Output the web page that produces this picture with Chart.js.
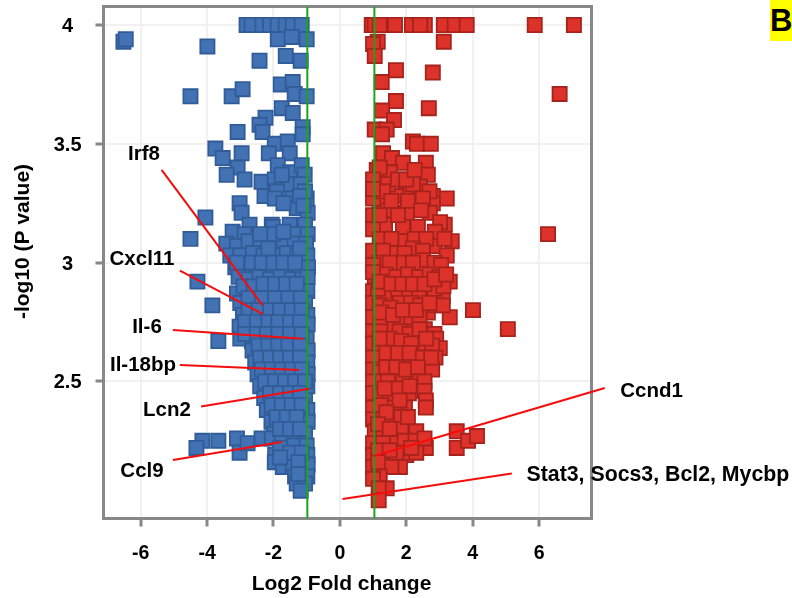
<!DOCTYPE html>
<html><head><meta charset="utf-8">
<style>html,body{margin:0;padding:0;background:#fff}#w{position:relative;width:792px;height:598px}
#p{position:absolute;left:770px;top:0;width:22px;height:41px;background:#ffff00;font:bold 31px "Liberation Sans",Arial,sans-serif;line-height:41px;color:#000;overflow:hidden}</style>
<script src="https://cdn.jsdelivr.net/npm/chart.js@4"></script></head>
<body><div id="w"><canvas id="c" width="792" height="598"></canvas><div id="p">B</div></div>
<script>
const xTickValues=[-6,-4,-2,0,2,4,6];
const yTickValues=[2.5,3,3.5,4];
const xThresholds=[-0.98,1.04];
const xAxisTitle='Log2 Fold change';
const yAxisTitle='-log10 (P value)';
const downRegulated=[
[-2.81,4],[-2.66,4],[-2.33,4],[-2.1,4],[-1.87,4],[-1.63,4],[-1.42,4],[-1.15,4],
[-6.52,3.93],[-6.45,3.94],[-3.99,3.91],[-1.87,3.94],[-1.45,3.95],[-1.0,3.94],[-1.63,3.87],[-2.42,3.85],[-1.18,3.85],
[-1.78,3.75],[-1.42,3.76],[-1.36,3.71],[-1.0,3.70],[-4.5,3.70],[-3.26,3.70],[-2.93,3.73],[-1.75,3.65],[-1.42,3.63],
[-2.24,3.61],[-2.42,3.58],[-2.33,3.55],[-3.08,3.55],[-1.12,3.57],[-1.12,3.54],[-3.75,3.48],[-3.53,3.44],[-2.96,3.46],
[-3.08,3.40],[-3.41,3.37],[-2.87,3.35],[-1.96,3.50],[-1.57,3.51],[-2.14,3.46],[-1.51,3.46],[-1.87,3.41],[-1.51,3.38],
[-1.15,3.41],[-1.06,3.37],[-2.36,3.34],[-1.96,3.35],[-1.51,3.33],[-1.18,3.33],[-2.27,3.28],[-1.9,3.30],[-1.96,3.27],
[-1.42,3.27],[-1.0,3.27],[-3.02,3.25],[-2.96,3.21],[-4.05,3.19],[-1.3,3.23],[-0.97,3.21],[-4.5,3.10],[-2.72,3.16],
[-2.05,3.16],[-1.51,3.16],[-1.05,3.16],[-3.23,3.13],[-2.87,3.12],[-2.02,3.15],[-1.36,3.12],[-0.97,3.12],
[-3.42,3.08],[-3.1,3.07],[-2.75,3.09],[-2.4,3.08],[-1.96,3.08],[-1.7,3.09],[-1.36,3.08],[-1.02,3.08],
[-3.3,3.03],[-3.0,3.03],[-2.62,3.04],[-2.3,3.03],[-1.96,3.03],[-1.6,3.04],[-1.28,3.03],[-0.98,3.03],
[-3.15,2.98],[-2.85,2.98],[-2.5,2.99],[-2.18,2.98],[-1.85,2.98],[-1.52,2.99],[-1.2,2.98],[-0.96,2.98],
[-4.29,2.92],[-3.05,2.94],[-2.75,2.93],[-2.42,2.94],[-2.1,2.93],[-1.78,2.94],[-1.45,2.93],[-1.13,2.93],[-0.97,2.94],
[-3.1,2.87],[-2.8,2.88],[-2.5,2.87],[-2.2,2.89],[-1.88,2.88],[-1.55,2.87],[-1.25,2.88],[-0.98,2.88],
[-3.84,2.82],[-3.0,2.83],[-2.68,2.83],[-2.35,2.82],[-2.03,2.84],[-1.7,2.83],[-1.38,2.82],[-1.05,2.83],
[-2.92,2.78],[-2.6,2.78],[-2.28,2.77],[-1.95,2.78],[-1.62,2.77],[-1.3,2.78],[-0.98,2.78],
[-3.02,2.73],[-2.7,2.73],[-2.38,2.72],[-2.05,2.73],[-1.72,2.72],[-1.4,2.73],[-1.08,2.72],[-0.97,2.74],
[-3.66,2.67],[-3.0,2.68],[-2.65,2.67],[-2.3,2.68],[-1.98,2.67],[-1.65,2.68],[-1.32,2.67],[-1.0,2.68],
[-2.63,2.63],[-2.3,2.62],[-2.0,2.63],[-1.72,2.62],[-1.4,2.63],[-1.08,2.62],[-0.97,2.63],
[-2.55,2.58],[-2.25,2.58],[-1.92,2.57],[-1.6,2.58],[-1.3,2.57],[-0.98,2.58],
[-2.48,2.53],[-2.15,2.53],[-1.85,2.52],[-1.52,2.53],[-1.2,2.52],[-0.97,2.53],
[-2.4,2.48],[-2.05,2.48],[-1.75,2.47],[-1.42,2.48],[-1.1,2.47],[-0.98,2.48],
[-2.28,2.43],[-1.95,2.43],[-1.65,2.42],[-1.35,2.43],[-1.05,2.42],
[-2.2,2.38],[-1.88,2.38],[-1.58,2.37],[-1.28,2.38],[-0.98,2.38],
[-2.06,2.33],[-1.75,2.32],[-1.45,2.33],[-1.15,2.32],[-0.97,2.33],
[-1.98,2.28],[-1.68,2.28],[-1.35,2.27],[-1.05,2.28],
[-4.14,2.25],[-4.32,2.22],[-3.66,2.25],[-3.1,2.26],[-3.02,2.20],[-2.78,2.24],[-2.36,2.26],[-2.05,2.26],[-1.75,2.24],[-1.4,2.23],[-1.0,2.23],
[-1.95,2.19],[-1.6,2.18],[-1.28,2.19],[-0.98,2.19],[-1.96,2.16],[-1.72,2.14],[-1.42,2.14],[-1.1,2.14],[-0.97,2.15],
[-1.35,2.10],[-1.15,2.09],[-0.98,2.1],[-1.3,2.07],[-1.05,2.07],[-1.18,2.04],
[-3.1,3.0],[-2.65,3.0],[-2.35,3.0],[-2.0,3.0],[-1.7,3.0],[-1.35,3.0],[-2.9,2.9],[-2.6,2.9],[-2.3,2.91],[-1.95,2.91],[-1.62,2.91],[-1.3,2.91],
[-2.75,2.85],[-2.35,2.85],[-1.95,2.85],[-1.55,2.85],[-1.18,2.85],[-2.75,2.8],[-2.45,2.8],[-2.1,2.8],[-1.8,2.8],[-1.45,2.8],[-1.15,2.8],
[-2.85,2.75],[-2.5,2.75],[-2.15,2.75],[-1.85,2.75],[-1.5,2.75],[-1.2,2.75],[-2.85,2.7],[-2.5,2.7],[-2.2,2.7],[-1.85,2.7],[-1.5,2.7],[-1.15,2.7],
[-2.45,2.65],[-2.15,2.65],[-1.85,2.65],[-1.55,2.65],[-1.2,2.65],[-2.4,2.6],[-2.1,2.6],[-1.8,2.6],[-1.5,2.6],[-1.2,2.6],
[-2.35,2.55],[-2.05,2.55],[-1.75,2.55],[-1.45,2.55],[-1.15,2.55],[-2.25,2.5],[-1.95,2.5],[-1.65,2.5],[-1.35,2.5],[-1.05,2.5],
[-2.1,2.45],[-1.8,2.45],[-1.5,2.45],[-1.2,2.45],[-2.05,2.4],[-1.75,2.4],[-1.45,2.4],[-1.15,2.4],[-1.9,2.35],[-1.6,2.35],[-1.3,2.35],
[-1.8,2.3],[-1.5,2.3],[-1.2,2.3],[-1.8,2.22],[-1.5,2.2],[-1.15,2.2],[-1.8,2.18],[-1.25,2.16],[-1.25,2.11],
[-2.0,3.12],[-2.4,3.12],[-1.7,3.13],[-1.2,3.06],[-2.15,3.06],[-1.05,3.3],[-1.75,3.37],[-1.2,3.28],[-1.7,3.25],[-1.1,3.24]
];
const upRegulated=[
[0.96,4],[1.05,4],[1.2,4],[1.66,4],[2.17,4],[2.56,4],[2.42,4],[3.13,4],[3.46,4],[3.82,4],[5.87,4],[7.05,4],
[1.14,3.93],[1.0,3.92],[3.13,3.93],[1.05,3.87],[1.69,3.81],[2.8,3.80],[1.26,3.76],[6.62,3.71],[1.69,3.68],[1.27,3.64],
[2.68,3.65],[1.63,3.60],[1.05,3.56],[1.41,3.56],[1.27,3.54],[2.2,3.51],[2.32,3.5],[2.74,3.50],[1.3,3.46],[1.57,3.44],
[1.9,3.42],[2.59,3.42],[1.11,3.39],[1.51,3.38],[2.35,3.37],[2.65,3.37],[1.96,3.31],[2.41,3.32],[1.15,3.33],[2.8,3.28],
[3.22,3.27],[2.8,3.25],[2.29,3.26],[1.2,3.25],[1.0,3.27],[1.45,3.22],[2.02,3.21],[2.71,3.21],[1.0,3.2],[1.7,3.28],
[3.16,3.16],[3.02,3.17],[6.27,3.12],[1.9,3.15],[1.36,3.16],[2.35,3.15],[2.86,3.13],[1.0,3.14],
[3.37,3.09],[1.2,3.1],[1.9,3.09],[2.86,3.07],[1.55,3.1],[2.25,3.1],[2.6,3.1],[3.15,3.1],
[1.66,3.04],[2.2,3.06],[3.22,3.03],[1.0,3.05],[1.3,3.05],[1.95,3.04],[2.5,3.05],
[2.5,3.01],[1.2,3.0],[1.9,3.0],[1.5,3.0],[2.2,3.0],[2.85,3.0],[3.05,2.99],[1.0,2.99],
[3.31,2.92],[1.05,2.94],[1.38,2.95],[1.7,2.94],[2.05,2.95],[2.38,2.94],[2.7,2.95],[3.0,2.94],
[3.1,2.86],[2.59,2.86],[1.41,2.86],[1.0,2.88],[1.15,2.89],[1.75,2.88],[2.08,2.89],[2.38,2.88],[2.85,2.89],[3.12,2.9],
[4.01,2.80],[5.06,2.72],[3.31,2.77],[1.81,2.83],[2.65,2.79],[1.0,2.83],[1.2,2.82],[1.52,2.81],[2.15,2.83],[2.42,2.82],[2.9,2.82],[3.1,2.82],
[1.51,2.73],[2.14,2.72],[2.56,2.72],[1.0,2.77],[1.22,2.76],[1.85,2.77],[2.15,2.77],[2.4,2.77],
[1.0,2.71],[1.22,2.71],[1.8,2.71],[2.85,2.70],[2.4,2.68],[2.9,2.68],
[3.01,2.64],[1.0,2.66],[1.2,2.65],[1.55,2.66],[1.88,2.65],[2.2,2.66],[2.5,2.65],[2.78,2.65],
[2.62,2.6],[1.3,2.59],[1.0,2.6],[1.6,2.61],[1.95,2.6],[2.28,2.6],[2.88,2.6],
[1.87,2.57],[1.0,2.55],[1.22,2.54],[1.55,2.55],[2.2,2.55],[2.5,2.55],[2.78,2.55],
[2.2,2.51],[1.0,2.5],[1.28,2.5],[1.6,2.49],[1.9,2.5],[2.55,2.5],
[1.0,2.45],[1.22,2.44],[1.55,2.45],[1.88,2.45],[2.08,2.45],[2.55,2.46],
[1.51,2.43],[2.59,2.42],[2.59,2.39],[1.96,2.39],[1.0,2.39],[1.25,2.4],[1.65,2.39],
[1.63,2.34],[1.0,2.34],[1.3,2.34],[1.85,2.35],[1.05,2.29],
[2.05,2.29],[2.3,2.29],[1.3,2.29],[1.62,2.29],[1.85,2.3],
[1.6,2.25],[2.59,2.22],[1.0,2.24],[1.3,2.24],[1.95,2.25],[2.28,2.25],[2.55,2.26],
[3.52,2.29],[3.52,2.22],[3.86,2.25],[4.13,2.27],
[1.0,2.19],[1.3,2.18],[1.65,2.19],[2.0,2.19],[2.3,2.2],
[1.81,2.14],[1.0,2.14],[1.28,2.14],[1.55,2.14],
[1.2,2.10],[1.0,2.09],[1.41,2.05],[1.17,2.05],[1.17,2.0],
[1.2,3.4],[1.45,3.33],[1.75,3.35],[2.2,3.33],[2.7,3.3],[1.3,3.3],[2.05,3.26],[2.5,3.27],[1.55,3.26],[1.0,3.35],[1.0,3.31],[2.45,3.22],[1.75,3.2],[1.2,3.2],[2.0,3.35],[2.25,3.39],
[1.0,2.96],[1.2,2.92],[1.55,2.91],[1.88,2.91],[2.2,2.91],[2.55,2.91],[2.85,2.93],[3.2,2.95],[1.25,2.79],[1.6,2.78],[1.9,2.8],[2.3,2.8],[2.7,2.83],
[2.1,2.7],[2.4,2.72],[1.5,2.68],[1.2,2.68],[1.85,2.67],[2.15,2.66],[2.6,2.68],[1.4,2.62],[1.75,2.62],[2.1,2.62],[2.5,2.6],[2.75,2.6],
[1.4,2.56],[1.7,2.56],[2.0,2.55],[2.35,2.56],[1.45,2.5],[1.75,2.47],[2.1,2.48],[1.35,2.47],[1.8,2.42],[1.4,2.37],[2.05,2.35],[1.15,2.32],[1.5,2.3],[1.7,2.2],[1.15,2.21],[1.5,2.21],[2.15,2.22],[1.15,2.16]
];
const geneLabels=[
 {text:"Irf8",at:[-5.9,3.46],line:[[-5.37,3.39],[-2.33,2.82]]},
 {text:"Cxcl11",at:[-5.96,3.02],line:[[-4.82,2.966],[-2.33,2.784]]},
 {text:"Il-6",at:[-5.81,2.733],line:[[-5.03,2.716],[-1.11,2.68]]},
 {text:"Il-18bp",at:[-5.93,2.573],line:[[-4.82,2.569],[-1.23,2.548]]},
 {text:"Lcn2",at:[-5.21,2.384],line:[[-4.18,2.394],[-0.93,2.469]]},
 {text:"Ccl9",at:[-5.96,2.127],line:[[-5.03,2.169],[-1.75,2.245]]},
 {text:"Ccnd1",at:[9.39,2.465],line:[[1.03,2.186],[7.98,2.472]]},
 {text:"Stat3, Socs3, Bcl2, Mycbp",at:[9.58,2.112],line:[[0.08,2.005],[5.18,2.112]]}
];
const X_MIN=-7.12,X_MAX=7.58,Y_MIN=1.923,Y_MAX=4.078;
const FONT='"Liberation Sans",Arial,sans-serif';
const toPts=a=>a.map(p=>({x:p[0],y:p[1]}));
const marker=(label,data,fill,edge)=>({type:'scatter',label,data:toPts(data),pointStyle:'rect',pointRadius:10,pointHoverRadius:10,
  backgroundColor:fill,borderColor:edge,borderWidth:1.8,order:3});
const frame={id:'frame',beforeDatasetsDraw(c){const a=c.chartArea,g=c.ctx;g.save();g.strokeStyle='#888888';g.lineWidth=3;
  g.strokeRect(a.left,a.top,a.right-a.left,a.bottom-a.top);g.restore();}};
const labels={id:'labels',afterDraw(c){const g=c.ctx,sx=c.scales.x,sy=c.scales.y;g.save();g.fillStyle='#000';g.textAlign='center';g.textBaseline='middle';
  geneLabels.forEach(l=>{g.font='bold '+(l.text.length>10?21.3:20.5)+'px '+FONT;g.fillText(l.text,sx.getPixelForValue(l.at[0]),sy.getPixelForValue(l.at[1])+1.5);});
  g.font='bold 21px '+FONT;
  g.fillText(xAxisTitle,341.5,584);
  g.translate(23,241.5);g.rotate(-Math.PI/2);g.fillText(yAxisTitle,0,0);
  g.restore();}};
const datasets=[
 marker('Down',downRegulated,'#4272b3','#315c98'),
 marker('Up',upRegulated,'#dd3229','#a6231d'),
 ...xThresholds.map(v=>({type:'line',data:[{x:v,y:Y_MIN},{x:v,y:Y_MAX}],borderColor:'#1ea31e',borderWidth:2,pointRadius:0,order:2})),
 ...geneLabels.map(l=>({type:'line',data:toPts(l.line),borderColor:'#f40d0d',borderWidth:2,pointRadius:0,clip:false,order:1}))
];
const noPad=s=>{s.paddingTop=0;s.paddingBottom=0;s.paddingLeft=0;s.paddingRight=0;};
new Chart(document.getElementById('c'),{data:{datasets},plugins:[frame,labels],options:{
 responsive:false,animation:false,
 layout:{padding:{top:6.5,right:200.5,left:0,bottom:0},autoPadding:false},
 plugins:{legend:{display:false},tooltip:{enabled:false}},
 scales:{
  x:{type:'linear',min:X_MIN,max:X_MAX,afterBuildTicks:a=>{a.ticks=xTickValues.map(value=>({value}))},
   afterFit:s=>{s.height=79.5;noPad(s);},
   grid:{color:'#f1f1f1',lineWidth:2,tickColor:'#888888',tickWidth:3,tickLength:8},border:{display:false},
   ticks:{color:'#000',font:{family:FONT,weight:'bold',size:19.5},padding:15,maxRotation:0,callback:v=>String(v)}},
  y:{type:'linear',min:Y_MIN,max:Y_MAX,afterBuildTicks:a=>{a.ticks=yTickValues.map(value=>({value}))},
   afterFit:s=>{s.width=103.5;noPad(s);},
   grid:{color:'#f1f1f1',lineWidth:2,tickColor:'#888888',tickWidth:3,tickLength:8},border:{display:false},
   ticks:{color:'#000',font:{family:FONT,weight:'bold',size:20},padding:14,crossAlign:'center',labelOffset:1.5,callback:v=>String(v)}}
 }}});
</script></body></html>
